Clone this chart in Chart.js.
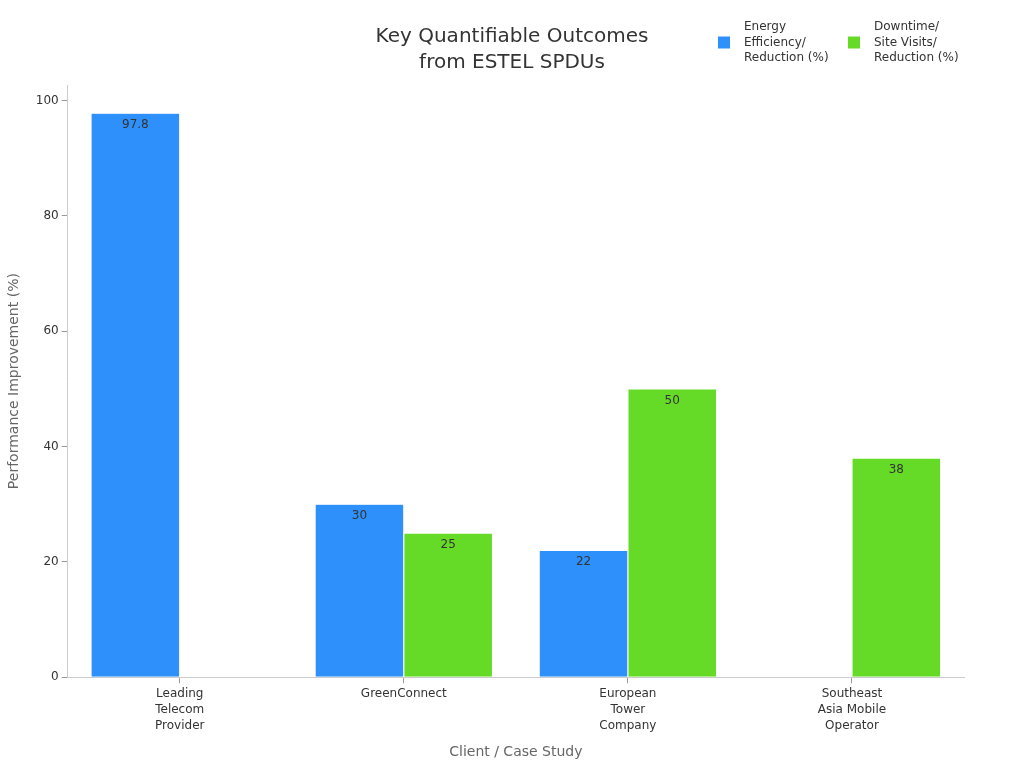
<!DOCTYPE html>
<html>
<head>
<meta charset="utf-8">
<style>
  html, body { margin: 0; padding: 0; background: #ffffff; }
  #wrap { width: 1024px; height: 768px; position: relative; }
</style>
<script src="https://cdn.jsdelivr.net/npm/chart.js@4/dist/chart.umd.min.js"></script>
</head>
<body>
<div id="wrap"><canvas id="c" width="1024" height="768"></canvas></div>
<script>
const categories = [
  ["Leading", "Telecom", "Provider"],
  ["GreenConnect"],
  ["European", "Tower", "Company"],
  ["Southeast", "Asia Mobile", "Operator"]
];
const seriesNames = [
  ["Energy", "Efficiency/", "Reduction (%)"],
  ["Downtime/", "Site Visits/", "Reduction (%)"]
];
const energyValues = [97.8, 30, 22, null];
const downtimeValues = [null, 25, 50, 38];
const yTicks = [0, 20, 40, 60, 80, 100];
const titleLines = ["Key Quantifiable Outcomes", "from ESTEL SPDUs"];
const xTitle = "Client / Case Study";
const yTitle = "Performance Improvement (%)";

const COLORS = ["#2E90FA", "#66DB27"];
const FONT = "'DejaVu Sans', sans-serif";

const valueLabels = {
  id: 'valueLabels',
  afterDatasetsDraw(chart) {
    const ctx = chart.ctx;
    ctx.save();
    ctx.font = "12px " + FONT;
    ctx.fillStyle = "#333";
    ctx.textAlign = "center";
    ctx.textBaseline = "middle";
    chart.data.datasets.forEach((ds, di) => {
      const meta = chart.getDatasetMeta(di);
      meta.data.forEach((bar, i) => {
        const v = ds.data[i];
        if (v === null || v === undefined) return;
        ctx.fillText(String(v), bar.x, bar.y + 11.5);
      });
    });
    ctx.restore();
  }
};

const customTitle = {
  id: 'customTitle',
  afterDraw(chart) {
    const ctx = chart.ctx;
    ctx.save();
    ctx.font = "20px " + FONT;
    ctx.fillStyle = "#333";
    ctx.textAlign = "center";
    ctx.textBaseline = "middle";
    titleLines.forEach((ln, i) => ctx.fillText(ln, chart.width / 2, 37 + i * 26));
    ctx.restore();
  }
};

const customLegend = {
  id: 'customLegend',
  afterDraw(chart) {
    const ctx = chart.ctx;
    ctx.save();
    ctx.font = "12px " + FONT;
    ctx.textBaseline = "middle";
    ctx.textAlign = "left";
    const starts = [718, 848];
    const lineH = 15.5;
    const midY = 42.5;
    chart.data.datasets.forEach((ds, di) => {
      const x = starts[di];
      ctx.fillStyle = COLORS[di];
      ctx.fillRect(x, midY - 6, 12, 12);
      ctx.fillStyle = "#333";
      const lines = seriesNames[di];
      lines.forEach((ln, li) => {
        ctx.fillText(ln, x + 26, midY + (li - 1) * lineH);
      });
    });
    ctx.restore();
  }
};

new Chart(document.getElementById('c'), {
  type: 'bar',
  data: {
    labels: categories,
    datasets: [
      { label: seriesNames[0].join(' '), data: energyValues, backgroundColor: COLORS[0], borderColor: '#ffffff', borderWidth: 0.6, categoryPercentage: 0.792, barPercentage: 1 },
      { label: seriesNames[1].join(' '), data: downtimeValues, backgroundColor: COLORS[1], borderColor: '#ffffff', borderWidth: 0.6, categoryPercentage: 0.792, barPercentage: 1 }
    ]
  },
  options: {
    responsive: false,
    animation: false,
    devicePixelRatio: 1,
    layout: { padding: { left: 6, right: 60, top: 85, bottom: 7 } },
    plugins: {
      legend: { display: false },
      tooltip: { enabled: false },
      title: { display: false }
    },
    scales: {
      x: {
        grid: { display: true, offset: false, drawOnChartArea: false, drawTicks: true, tickLength: 6, color: '#999' },
        border: { display: true, color: '#ccc' },
        ticks: { color: '#333', font: { family: FONT, size: 12, lineHeight: 1.36 }, padding: 2, maxRotation: 0, autoSkip: false },
        title: { display: true, text: xTitle, color: '#666', font: { family: FONT, size: 14 }, padding: { top: 8, bottom: 0 } }
      },
      y: {
        min: 0,
        max: 97.8 * 1.05,
        grid: { display: true, drawOnChartArea: false, drawTicks: true, tickLength: 6, color: '#999' },
        border: { display: true, color: '#ccc' },
        ticks: { color: '#333', font: { family: FONT, size: 12 }, padding: 3, stepSize: 20 },
        afterBuildTicks(scale) {
          scale.ticks = yTicks.map(v => ({ value: v }));
        },
        title: { display: true, text: yTitle, color: '#666', font: { family: FONT, size: 14 }, padding: { top: 0, bottom: 10 } }
      }
    }
  },
  plugins: [valueLabels, customTitle, customLegend]
});
</script>
</body>
</html>
